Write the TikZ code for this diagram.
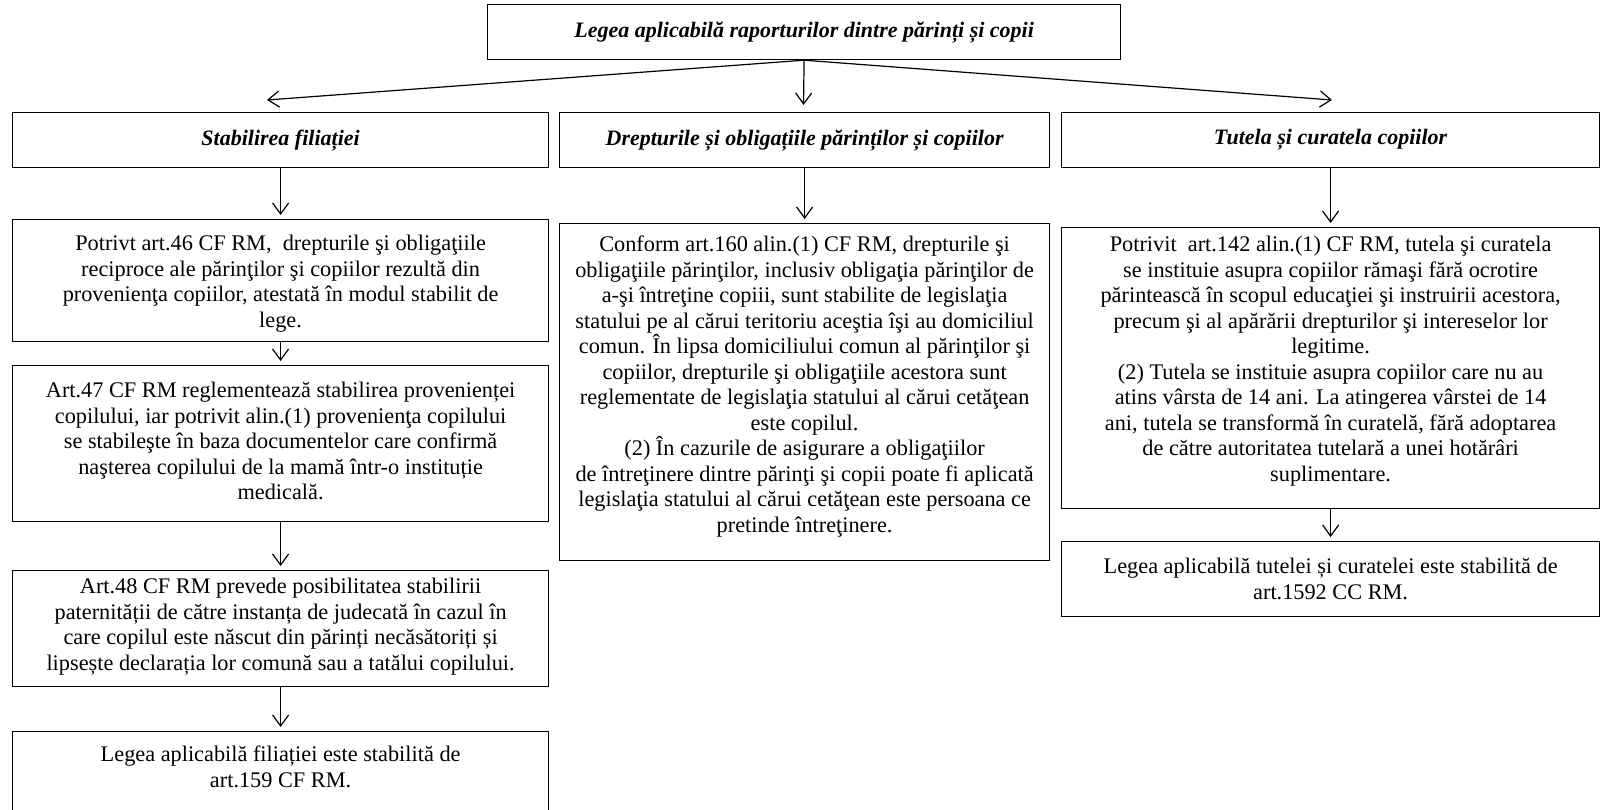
\documentclass[tikz,border=0pt]{standalone}
\usepackage{fontspec}
\setmainfont{Liberation Serif}
\usetikzlibrary{arrows.meta}
\begin{document}
\begin{tikzpicture}[x=1pt,y=-1pt,
  box/.style={draw, line width=1.2pt, anchor=north west, inner sep=0pt},
  txt/.style={anchor=north, align=center, inner sep=0pt, font=\fontsize{22.3}{25.5}\selectfont},
  ttl/.style={anchor=center, align=center, inner sep=0pt, font=\fontsize{22}{25.5}\selectfont\bfseries\itshape},
  arr/.style={line width=1.2pt, -{Straight Barb[length=11pt,width=16pt]}, shorten >=4pt}
]
\useasboundingbox (0,0) rectangle (1601,809);

% top
\node[box, minimum width=633pt, minimum height=55pt] (top) at (487,4) {};
\node[ttl] at (top.center) {Legea aplicabilă raporturilor dintre părinți și copii};

% level 2
\node[box, minimum width=536pt, minimum height=55pt] (L) at (12,112) {};
\node[ttl] at (L.center) {Stabilirea filiației};
\node[box, minimum width=490pt, minimum height=55pt] (M) at (559,112) {};
\node[ttl] at (M.center) {Drepturile și obligațiile părinților și copiilor};
\node[box, minimum width=538pt, minimum height=55pt] (R) at (1061,112) {};
\node[ttl] at (R.center) {Tutela și curatela copiilor};

\coordinate (eL) at (267,100);
\coordinate (eM) at (803.5,105);
\coordinate (eR) at (1332,100);
\draw[arr, shorten >=0pt] (top.south) -- (eL);
\draw[arr, shorten >=0pt] (top.south) -- (eM);
\draw[arr, shorten >=0pt] (top.south) -- (eR);

% left column
\node[box, minimum width=536pt, minimum height=122pt] (A) at (12,219) {};
\node[txt] at ([yshift=-16pt]A.north) {Potrivt art.46 CF RM,\ \ drepturile şi obligaţiile\\ reciproce ale părinţilor şi copiilor rezultă din\\ provenienţa copiilor, atestată în modul stabilit de\\ lege.};
\node[box, minimum width=536pt, minimum height=156pt] (B) at (12,365) {};
\node[txt] at ([yshift=-17pt]B.north) {Art.47 CF RM reglementează stabilirea provenienței\\ copilului, iar potrivit alin.(1) provenienţa copilului\\ se stabileşte în baza documentelor care confirmă\\ naşterea copilului de la mamă într-o instituție\\ medicală.};
\node[box, minimum width=536pt, minimum height=116pt] (C) at (12,570) {};
\node[txt] at ([yshift=-8pt]C.north) {Art.48 CF RM prevede posibilitatea stabilirii\\ paternității de către instanța de judecată în cazul în\\ care copilul este născut din părinți necăsătoriți și\\ lipsește declarația lor comună sau a tatălui copilului.};
\node[box, minimum width=536pt, minimum height=90pt] (D) at (12,731) {};
\node[txt] at ([yshift=-15pt]D.north) {Legea aplicabilă filiației este stabilită de\\ art.159 CF RM.};

\draw[arr] (L.south) -- (A.north);
\draw[arr] (A.south) -- (B.north);
\draw[arr] (B.south) -- (C.north);
\draw[arr] (C.south) -- (D.north);

% middle column
\node[box, minimum width=490pt, minimum height=337pt] (M1) at (559,223) {};
\node[txt] at ([yshift=-13pt]M1.north) {Conform art.160 alin.(1) CF RM, drepturile şi\\ obligaţiile părinţilor, inclusiv obligaţia părinţilor de\\ a-şi întreţine copiii, sunt stabilite de legislaţia\\ statului pe al cărui teritoriu aceştia îşi au domiciliul\\ comun. În lipsa domiciliului comun al părinţilor şi\\ copiilor, drepturile şi obligaţiile acestora sunt\\ reglementate de legislaţia statului al cărui cetăţean\\ este copilul.\\ (2) În cazurile de asigurare a obligaţiilor\\ de întreţinere dintre părinţi şi copii poate fi aplicată\\ legislaţia statului al cărui cetăţean este persoana ce\\ pretinde întreţinere.};
\draw[arr] (M.south) -- (M1.north);

% right column
\node[box, minimum width=538pt, minimum height=281pt] (R1) at (1061,227) {};
\node[txt] at ([yshift=-9pt]R1.north) {Potrivit\ \ art.142 alin.(1) CF RM, tutela şi curatela\\ se instituie asupra copiilor rămaşi fără ocrotire\\ părintească în scopul educaţiei şi instruirii acestora,\\ precum şi al apărării drepturilor şi intereselor lor\\ legitime.\\ (2) Tutela se instituie asupra copiilor care nu au\\ atins vârsta de 14 ani. La atingerea vârstei de 14\\ ani, tutela se transformă în curatelă, fără adoptarea\\ de către autoritatea tutelară a unei hotărâri\\ suplimentare.};
\node[box, minimum width=538pt, minimum height=75pt] (R2) at (1061,541) {};
\node[txt] at ([yshift=-17pt]R2.north) {Legea aplicabilă tutelei și curatelei este stabilită de\\ art.1592 CC RM.};
\draw[arr] (R.south) -- (R1.north);
\draw[arr] (R1.south) -- (R2.north);
\end{tikzpicture}
\end{document}
